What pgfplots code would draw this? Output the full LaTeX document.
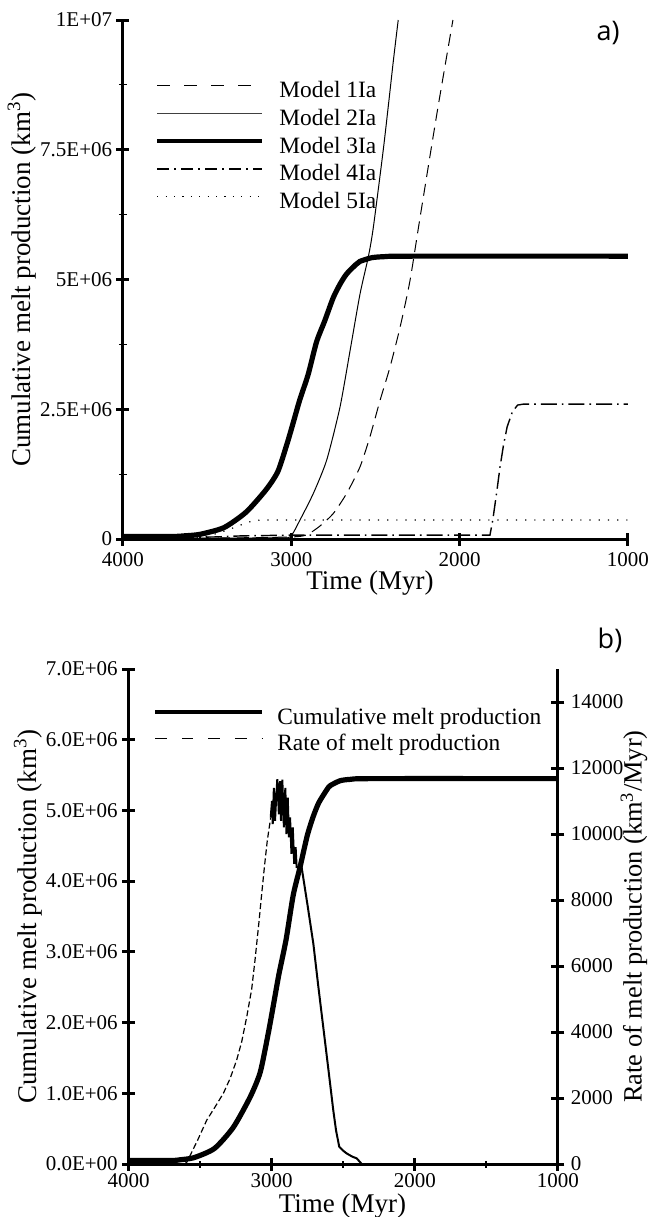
\documentclass[border=0pt]{standalone}
\usepackage{pgfplots}
\pgfplotsset{compat=1.18}
\usepackage{pgfplotstable}
\usepackage{fontspec}
\setmainfont{Liberation Serif}
\newfontfamily\panelfont{Open Sans}

% Model 3Ia / cumulative melt production (km^3)
\pgfplotstableread{
t v
4000 50000
3700 50000
3640 60000
3543 90000
3400 220000
3268 520000
3150 950000
3080 1300000
3024 1850000
2988 2250000
2950 2680000
2900 3170000
2850 3800000
2802 4200000
2751 4650000
2709 4920000
2671 5110000
2616 5290000
2592 5350000
2523 5420000
2450 5440000
2300 5450000
1000 5450000
}\cumul

\pgfplotstableread{
t v
4000 10000
3400 20000
3000 40000
2909 80000
2830 250000
2751 490000
2671 880000
2592 1390000
2533 1970000
2473 2670000
2414 3310000
2354 4080000
2295 4980000
2235 6200000
2135 8200000
2040 10000000
}\modelone

\pgfplotstableread{
t v
4000 10000
3400 15000
3100 25000
3008 40000
2948 370000
2869 880000
2790 1520000
2711 2540000
2651 3630000
2592 4720000
2543 5430000
2513 6000000
2450 7600000
2394 9210000
2365 10000000
}\modeltwo

\pgfplotstableread{
t v
4000 10000
3450 40000
3300 60000
3000 75000
1820 75000
1803 370000
1780 900000
1760 1390000
1740 1800000
1718 2160000
1687 2450000
1656 2580000
1620 2600000
1000 2600000
}\modelfour

\pgfplotstableread{
t v
4000 10000
3600 15000
3500 50000
3400 150000
3300 270000
3230 350000
3180 365000
1000 365000
}\modelfive

% rate of melt production (km^3/Myr)
\pgfplotstableread{
t r
3610 0
3594 50
3520 700
3454 1330
3400 1700
3338 2140
3290 2600
3245 3150
3210 3700
3175 4450
3140 5300
3117 6170
3090 7300
3070 8190
3050 9050
3031 9800
3007 10500
}\ratedash

\pgfplotstableread{
t r
3007 10500
2998 11000
2993 10300
2985 11400
2977 10400
2970 11000
2961 11660
2950 10600
2942 11600
2935 10400
2926 11650
2915 10200
2905 11400
2897 10000
2888 11100
2880 9900
2872 10500
2862 9400
2853 10200
2843 9100
2833 9600
2826 9000
2791 8990
2750 7850
2709 6670
2675 5400
2640 4150
2605 2900
2570 1630
2550 1000
2528 520
2500 400
2476 320
2440 230
2406 170
2371 0
1000 0
}\ratesolid

\pgfplotsset{
  mystyle/.style={
    scale only axis, clip=false,
    xmin=1000, xmax=4000, x dir=reverse,
    tick align=inside,
    major tick length=6.5pt, minor tick length=4pt,
    major tick style={line width=1.5pt, black},
    minor tick style={line width=0.6pt, black},
    tick label style={font=\fontsize{10.5}{12}\selectfont},
    label style={font=\fontsize{13.5}{16}\selectfont},
    scaled ticks=false,
    /pgf/number format/assume math mode=true,
    legend style={draw=none, fill=none, inner sep=0pt, outer sep=0pt,
      font=\fontsize{11.7}{14}\selectfont,
      nodes={inner sep=0pt, text height=8.5pt, text depth=2.5pt, font=\fontsize{11.7}{14}\selectfont}},
    legend cell align=left,
  },
  nolinearrows/.style={
    axis line style={-, line width=1.5pt},
    every outer x axis line/.append style={-},
    every outer y axis line/.append style={-},
    every inner x axis line/.append style={-},
    every inner y axis line/.append style={-},
  }
}

\begin{document}
\begin{tikzpicture}
\useasboundingbox (0,0) rectangle (325pt,-608.5pt);

% ---------------- panel a ----------------
\begin{axis}[mystyle,
  at={(61.5pt,-269.5pt)}, anchor=south west,
  width=252.5pt, height=259.5pt,
  ymin=0, ymax=10000000,
  axis x line=bottom, axis y line=left, nolinearrows,
  xtick={1000,2000,3000,4000}, xticklabels={1000,2000,3000,4000},
  ytick={0,2500000,5000000,7500000,10000000},
  yticklabels={0,2.5E+06,5E+06,7.5E+06,1E+07},
  minor ytick={1250000,3750000,6250000,8750000},
  yticklabel style={inner sep=2pt},
  xlabel={Time (Myr)},
  ylabel={Cumulative melt production (km\textsuperscript{3})},
  xlabel style={at={(axis description cs:0.489,-0.0848)}, anchor=center},
  ylabel style={at={(axis description cs:-0.200,0.5)}, anchor=center},
  legend style={at={(axis description cs:0.0634,0.875)}, anchor=north west,
    yshift=2pt, row sep=2.85pt, column sep=7.5pt},
  legend image code/.code={\draw[#1] (0pt,3pt) -- (52.5pt,3pt);},
]
\addplot[black, line width=0.5pt, dash pattern=on 6pt off 3.5pt, smooth, tension=0.4, forget plot] table[x=t,y=v] {\modelone};
\addplot[black, line width=0.5pt, smooth, tension=0.4, forget plot] table[x=t,y=v] {\modeltwo};
\addplot[black, line width=0.7pt, dash pattern=on 8pt off 2.5pt on 0.8pt off 2.5pt, forget plot] table[x=t,y=v] {\modelfour};
\addplot[black, line width=0.6pt, dash pattern=on 0.6pt off 4pt, forget plot] table[x=t,y=v] {\modelfive};
\addplot[black, line width=2.6pt, line join=round, smooth, tension=0.4, forget plot] table[x=t,y=v] {\cumul};

\addlegendimage{black, line width=0.5pt, dash pattern=on 6.5pt off 7pt}
\addlegendentry{Model 1Ia}
\addlegendimage{black!75, line width=0.6pt}
\addlegendentry{Model 2Ia}
\addlegendimage{black, line width=2.2pt}
\addlegendentry{Model 3Ia}
\addlegendimage{black, line width=0.6pt, dash pattern=on 6pt off 2.5pt on 1pt off 2.5pt}
\addlegendentry{Model 4Ia}
\addlegendimage{black, line width=0.6pt, dash pattern=on 0.6pt off 3.6pt}
\addlegendentry{Model 5Ia}
\end{axis}

\node[font=\panelfont\fontsize{13.5}{15}\selectfont] at (304pt,-16.5pt) {a)};

% ---------------- panel b ----------------
\begin{axis}[mystyle,
  at={(64.3pt,-582pt)}, anchor=south west,
  width=214.7pt, height=247.5pt,
  ymin=0, ymax=7000000,
  axis x line=bottom, axis y line=left, nolinearrows,
  xtick={1000,2000,3000,4000}, xticklabels={1000,2000,3000,4000},
  xticklabel style={inner sep=1.5pt},
  minor xtick={1500,2500,3500},
  minor tick length=3.5pt, minor tick style={line width=1pt, black},
  ytick={0,1000000,2000000,3000000,4000000,5000000,6000000,7000000},
  yticklabels={0.0E+00,1.0E+06,2.0E+06,3.0E+06,4.0E+06,5.0E+06,6.0E+06,7.0E+06},
  yticklabel style={inner sep=2pt},
  xlabel={Time (Myr)},
  ylabel={Cumulative melt production (km\textsuperscript{3})},
  xlabel style={at={(axis description cs:0.498,-0.084)}, anchor=center, inner sep=1pt},
  ylabel style={at={(axis description cs:-0.234,0.5)}, anchor=center},
  legend style={at={(axis description cs:0.0568,0.907)}, anchor=north west,
    yshift=4pt, row sep=2pt, column sep=6.5pt},
  legend image code/.code={\draw[#1] (0pt,3pt) -- (53.5pt,3pt);},
]
\addplot[black, line width=2.6pt, line join=round, smooth, tension=0.4, forget plot] table[x=t,y=v] {\cumul};
\addlegendimage{black, line width=2.2pt}
\addlegendentry{Cumulative melt production}
\addlegendimage{black, line width=0.5pt, dash pattern=on 5.8pt off 7.5pt}
\addlegendentry{Rate of melt production}
\end{axis}

\begin{axis}[mystyle,
  at={(64.3pt,-582pt)}, anchor=south west,
  width=214.7pt, height=247.5pt,
  ymin=0, ymax=15000,
  axis y line=right, axis x line=none, nolinearrows,
  ytick={0,2000,4000,6000,8000,10000,12000,14000},
  yticklabels={0,2000,4000,6000,8000,10000,12000,14000},
  yticklabel style={inner sep=3pt},
  ylabel={Rate of melt production (km\textsuperscript{3}/Myr)},
  ylabel style={at={(axis description cs:1.177,0.5)}, anchor=center,
    font=\fontsize{13.2}{16}\selectfont},
]
\addplot[black, line width=0.6pt, dash pattern=on 3pt off 1.5pt] table[x=t,y=r] {\ratedash};
\addplot[black, line width=1pt, line join=miter] table[x=t,y=r] {\ratesolid};
\end{axis}

\node[font=\panelfont\fontsize{13.5}{15}\selectfont] at (305pt,-320pt) {b)};
\end{tikzpicture}
\end{document}
